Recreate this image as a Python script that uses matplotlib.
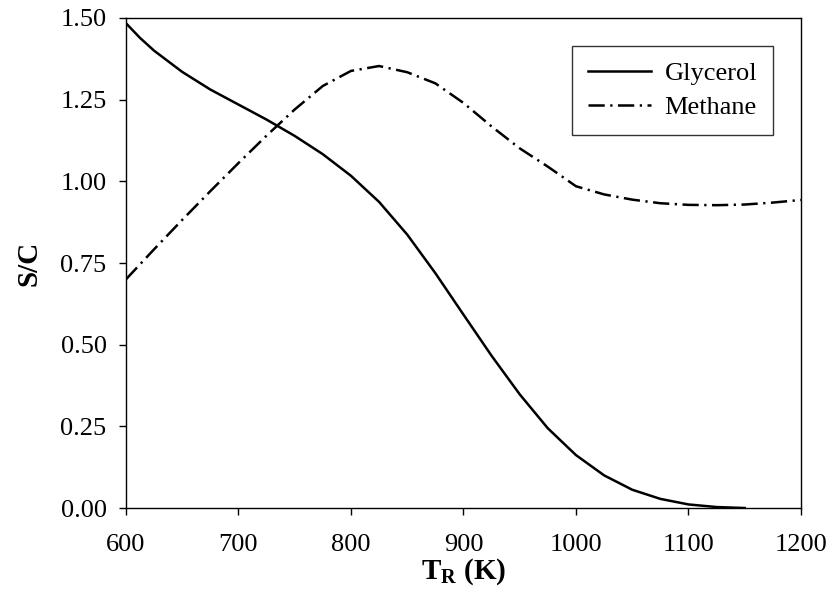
import matplotlib
matplotlib.use("Agg")
import matplotlib.pyplot as plt

# Reactor temperature (K) and steam-to-carbon ratio
glycerol_T = [600, 612.5, 625, 650, 675, 700, 725, 750, 775, 800, 825, 850, 875,
              900, 925, 950, 975, 1000, 1025, 1050, 1075, 1100, 1125, 1150]
glycerol_sc = [1.484, 1.439, 1.400, 1.335, 1.281, 1.235, 1.189, 1.139, 1.083,
               1.017, 0.937, 0.837, 0.719, 0.592, 0.466, 0.348, 0.244, 0.162,
               0.100, 0.056, 0.028, 0.011, 0.003, 0.0]

methane_T = [600, 625, 650, 675, 700, 725, 750, 775, 800, 825, 850, 875, 900,
             925, 950, 975, 1000, 1025, 1050, 1075, 1100, 1125, 1150, 1175, 1200]
methane_sc = [0.700, 0.792, 0.882, 0.970, 1.056, 1.140, 1.220, 1.292, 1.338,
              1.353, 1.334, 1.300, 1.240, 1.168, 1.101, 1.045, 0.985, 0.960,
              0.944, 0.933, 0.928, 0.927, 0.929, 0.935, 0.943]

x_ticks = [600, 700, 800, 900, 1000, 1100, 1200]
y_ticks = [0.0, 0.25, 0.5, 0.75, 1.0, 1.25, 1.5]

plt.rcParams['font.family'] = 'Liberation Serif'
plt.rcParams['mathtext.fontset'] = 'custom'
plt.rcParams['mathtext.rm'] = 'Liberation Serif'
plt.rcParams['mathtext.bf'] = 'Liberation Serif:bold'

fig = plt.figure(figsize=(8.32, 6.04), dpi=100)
ax = fig.add_axes([0.1514, 0.1589, 0.8113, 0.8113])

ax.plot(glycerol_T, glycerol_sc, color='black', linewidth=1.8, label='Glycerol')
ax.plot(methane_T, methane_sc, color='black', linewidth=1.8,
        linestyle=(0, (6.5, 2.2, 0.9, 2.2)), label='Methane')

ax.set_xlim(600, 1200)
ax.set_ylim(0, 1.5)
ax.set_xticks(x_ticks)
ax.set_yticks(y_ticks)
ax.set_yticklabels([f"{v:.2f}" for v in y_ticks])
ax.tick_params(direction='out', length=5, width=1, labelsize=19,
               top=False, right=False)
ax.tick_params(axis='y', pad=9)
ax.tick_params(axis='x', pad=14)
for s in ax.spines.values():
    s.set_linewidth(1)

ax.set_xlabel(r'$\mathbf{T_R}$ (K)', fontsize=21, fontweight='bold', labelpad=0)
ax.set_ylabel('S/C', fontsize=21, fontweight='bold', labelpad=13)

leg = ax.legend(loc='upper right', bbox_to_anchor=(0.9585, 0.943), fontsize=19,
                frameon=True, fancybox=False, edgecolor='black',
                handlelength=2.4, handletextpad=0.5, borderpad=0.6,
                labelspacing=0.4, borderaxespad=0)
leg.get_frame().set_linewidth(1)

plt.savefig('out.png', dpi=100)
plt.close()
